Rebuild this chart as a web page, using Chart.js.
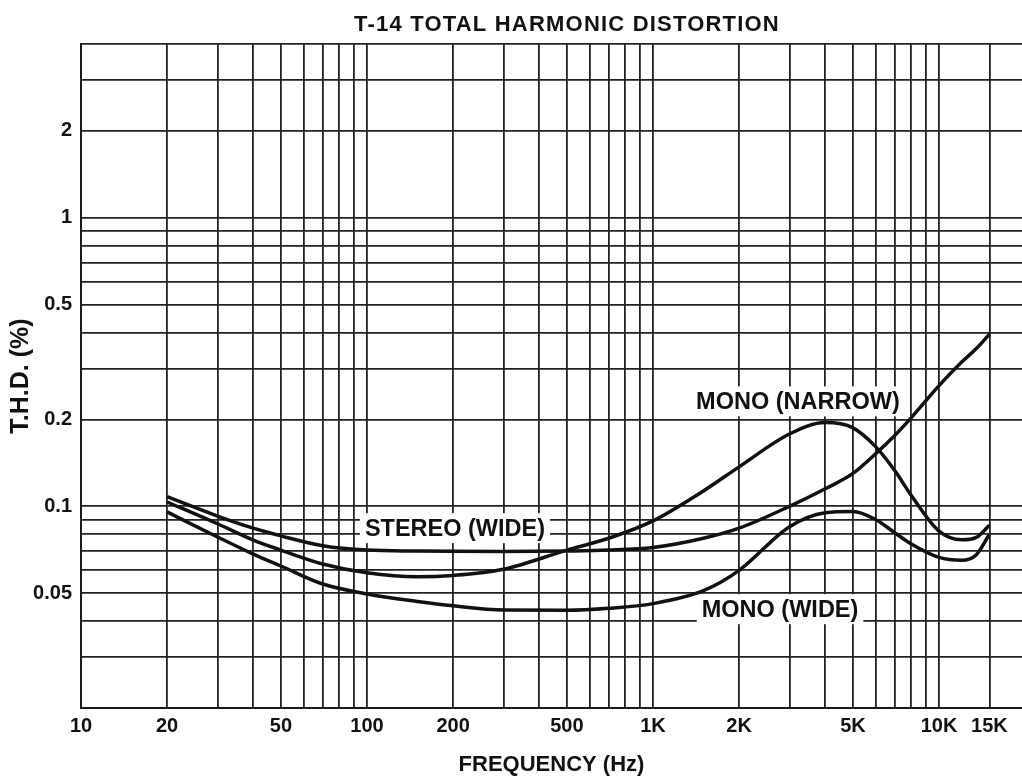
<!DOCTYPE html>
<html>
<head>
<meta charset="utf-8">
<title>T-14 Total Harmonic Distortion</title>
<script src="https://cdn.jsdelivr.net/npm/chart.js@4.4.1/dist/chart.umd.min.js"></script>
<style>
    html, body { margin: 0; padding: 0; background: #fff; }
    #wrap { width: 1022px; height: 780px; }
</style>
</head>
<body>
<div id="wrap"><canvas id="thd-chart" width="1022" height="780"></canvas></div>
<script>
// frequencies (Hz), shared by all three series
var freqHz = [20, 30, 40, 50, 70, 100, 150, 200, 300, 500, 700, 1000, 1500, 2000,
              3000, 4000, 5000, 6000, 7000, 8000, 10000, 12000, 13500, 15000];

// T.H.D. in %
var stereoWide = [0.108, 0.0925, 0.084, 0.079, 0.073, 0.0705, 0.0700, 0.0698, 0.0697, 0.0700, 0.0705, 0.072, 0.0775, 0.084,
                  0.100, 0.115, 0.130, 0.152, 0.176, 0.203, 0.262, 0.316, 0.352, 0.395];
var monoNarrow = [0.1035, 0.087, 0.0764, 0.0705, 0.0631, 0.0588, 0.0570, 0.0576, 0.0605, 0.0705, 0.0775, 0.089, 0.113, 0.137,
                  0.178, 0.195, 0.187, 0.161, 0.133, 0.109, 0.082, 0.0765, 0.078, 0.086];
var monoWide   = [0.0956, 0.0783, 0.0683, 0.0621, 0.0538, 0.0497, 0.0468, 0.0452, 0.0437, 0.0436, 0.0443, 0.046, 0.051, 0.060,
                  0.085, 0.095, 0.096, 0.090, 0.081, 0.074, 0.0665, 0.065, 0.068, 0.080];

// grid lines of the log paper
var xGrid = [10, 20, 30, 40, 50, 60, 70, 80, 90,
             100, 200, 300, 400, 500, 600, 700, 800, 900,
             1000, 2000, 3000, 4000, 5000, 6000, 7000, 8000, 9000,
             10000, 15000];
var yGrid = [0.02, 0.03, 0.04, 0.05, 0.06, 0.07, 0.08, 0.09,
             0.1, 0.2, 0.3, 0.4, 0.5, 0.6, 0.7, 0.8, 0.9,
             1, 2, 3, 4];

// grid lines that carry a label
var xTickValues = [10, 20, 50, 100, 200, 500, 1000, 2000, 5000, 10000, 15000];
var xTickLabels = ['10', '20', '50', '100', '200', '500', '1K', '2K', '5K', '10K', '15K'];
var yTickValues = [0.05, 0.1, 0.2, 0.5, 1, 2];
var yTickLabels = ['0.05', '0.1', '0.2', '0.5', '1', '2'];

// curve names and where they sit (Hz, %)
var curveNames = ['STEREO (WIDE)', 'MONO (NARROW)', 'MONO (WIDE)'];
var labelFreq = [203, 3210, 2780];
var labelThd = [0.084, 0.231, 0.044];

var FONT = '"Liberation Sans", Arial, Helvetica, sans-serif';

function toPoints(values) {
    var pts = [];
    for (var i = 0; i < freqHz.length; i++) {
        pts.push({ x: freqHz[i], y: values[i] });
    }
    return pts;
}

function curve(name, values) {
    return {
        label: name,
        data: toPoints(values),
        borderColor: '#111',
        borderWidth: 3.5,
        pointRadius: 0,
        fill: false,
        cubicInterpolationMode: 'monotone'
    };
}

// white boxed curve names + chart title
var annotate = {
    id: 'annotate',
    beforeDatasetsDraw: function(chart) {
        var ctx = chart.ctx;
        var xs = chart.scales.x;
        var ys = chart.scales.y;
        ctx.save();
        ctx.font = 'bold 23.5px ' + FONT;
        ctx.textAlign = 'center';
        ctx.textBaseline = 'middle';
        for (var i = 0; i < curveNames.length; i++) {
            var px = xs.getPixelForValue(labelFreq[i]);
            var py = ys.getPixelForValue(labelThd[i]);
            var w = ctx.measureText(curveNames[i]).width;
            ctx.fillStyle = '#fff';
            ctx.fillRect(px - w / 2 - 5, py - 15, w + 10, 30);
            ctx.fillStyle = '#111';
            ctx.fillText(curveNames[i], px, py + 1);
        }
        ctx.restore();
    },
    afterDraw: function(chart) {
        var ctx = chart.ctx;
        ctx.save();
        ctx.font = 'bold 22px ' + FONT;
        if ('letterSpacing' in ctx) ctx.letterSpacing = '1.2px';
        ctx.textAlign = 'center';
        ctx.textBaseline = 'middle';
        ctx.fillStyle = '#111';
        ctx.fillText('T-14 TOTAL HARMONIC DISTORTION', 567, 25);
        ctx.restore();
    }
};

new Chart(document.getElementById('thd-chart'), {
    type: 'line',
    data: {
        datasets: [
            curve('STEREO (WIDE)', stereoWide),
            curve('MONO (NARROW)', monoNarrow),
            curve('MONO (WIDE)', monoWide)
        ]
    },
    options: {
        responsive: false,
        devicePixelRatio: 1,
        animation: false,
        layout: { padding: { top: 44, right: 0, bottom: 0, left: 0 } },
        plugins: {
            legend: { display: false },
            tooltip: { enabled: false },
            title: { display: false }
        },
        scales: {
            x: {
                type: 'logarithmic',
                min: 10,
                max: 19500,
                afterBuildTicks: function(scale) {
                    scale.ticks = xGrid.map(function(v) { return { value: v }; });
                },
                afterFit: function(scale) { scale.height = 72; },
                ticks: {
                    autoSkip: false,
                    maxRotation: 0,
                    minRotation: 0,
                    padding: 6,
                    color: '#111',
                    font: { family: FONT, size: 20, weight: 'bold' },
                    callback: function(v) {
                        var i = xTickValues.indexOf(v);
                        return i < 0 ? '' : xTickLabels[i];
                    }
                },
                grid: { color: '#222', lineWidth: 1.8, drawTicks: false },
                border: { color: '#1a1a1a', width: 2 },
                title: {
                    display: true,
                    text: 'FREQUENCY (Hz)',
                    color: '#111',
                    font: { family: FONT, size: 22, weight: 'bold' },
                    padding: { top: 0, bottom: 2 }
                }
            },
            y: {
                type: 'logarithmic',
                min: 0.02,
                max: 4,
                afterBuildTicks: function(scale) {
                    scale.ticks = yGrid.map(function(v) { return { value: v }; });
                },
                afterFit: function(scale) { scale.width = 81; },
                ticks: {
                    autoSkip: false,
                    padding: 9,
                    color: '#111',
                    font: { family: FONT, size: 20, weight: 'bold' },
                    callback: function(v) {
                        var i = yTickValues.indexOf(v);
                        return i < 0 ? '' : yTickLabels[i];
                    }
                },
                grid: { color: '#222', lineWidth: 1.8, drawTicks: false },
                border: { color: '#1a1a1a', width: 2 },
                title: {
                    display: true,
                    text: 'T.H.D. (%)',
                    color: '#111',
                    font: { family: FONT, size: 25, weight: 'bold' },
                    padding: { top: 6, bottom: 0 }
                }
            }
        }
    },
    plugins: [annotate]
});
</script>
</body>
</html>
